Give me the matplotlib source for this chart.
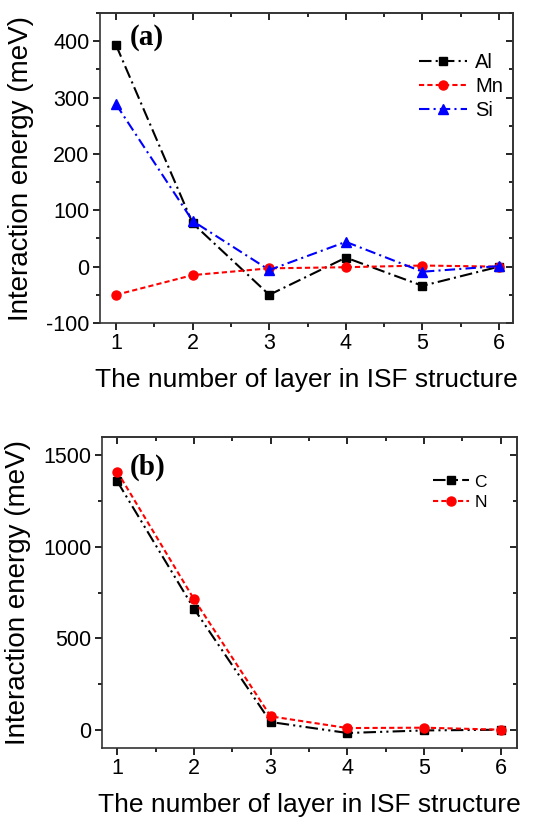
import numpy as np
import matplotlib
matplotlib.use("Agg")
import matplotlib.pyplot as plt
from matplotlib.ticker import MultipleLocator

plt.rcParams['font.family'] = ['Liberation Sans', 'DejaVu Sans']
plt.rcParams['axes.unicode_minus'] = False

layers = [1, 2, 3, 4, 5, 6]

# panel (a)
al = [393, 77, -50, 16, -34, 0]
mn = [-50, -15, -3, -1, 2, 0]
si = [288, 81, -6, 44, -9, 1]

# panel (b)
c_vals = [1358, 662, 42, -18, -4, 0]
n_vals = [1411, 714, 73, 9, 11, 0]

xlabel = "The number of layer in ISF structure"
ylabel = "Interaction energy (meV)"


def style_axes(ax, ymajor, yminor):
    ax.xaxis.set_major_locator(MultipleLocator(1))
    ax.xaxis.set_minor_locator(MultipleLocator(0.5))
    ax.yaxis.set_major_locator(MultipleLocator(ymajor))
    ax.yaxis.set_minor_locator(MultipleLocator(yminor))
    ax.tick_params(which='both', direction='out', top=False, right=False,
                   labelsize=15.5, width=1.2, pad=2.5)
    ax.tick_params(which='major', length=5)
    ax.tick_params(which='minor', length=3)
    # inward ticks on top and right
    sec_x = ax.secondary_xaxis('top')
    sec_x.xaxis.set_major_locator(MultipleLocator(1))
    sec_x.xaxis.set_minor_locator(MultipleLocator(0.5))
    sec_x.tick_params(which='both', direction='in', labeltop=False, width=1.2)
    sec_x.tick_params(which='major', length=5)
    sec_x.tick_params(which='minor', length=3)
    sec_y = ax.secondary_yaxis('right')
    sec_y.yaxis.set_major_locator(MultipleLocator(ymajor))
    sec_y.yaxis.set_minor_locator(MultipleLocator(yminor))
    sec_y.tick_params(which='both', direction='in', labelright=False, width=1.2)
    sec_y.tick_params(which='major', length=5)
    sec_y.tick_params(which='minor', length=3)
    for sp in ax.spines.values():
        sp.set_linewidth(1.2)
        sp.set_color('#333333')
    for sec in (sec_x, sec_y):
        for sp in sec.spines.values():
            sp.set_linewidth(1.2)
            sp.set_color('#333333')
    ax.set_xlabel(xlabel, fontsize=19, labelpad=10)
    ax.set_ylabel(ylabel, fontsize=20, labelpad=9)


fig = plt.figure(figsize=(5.39, 8.19), dpi=100)

ax1 = fig.add_axes([0.1855, 0.6056, 0.766, 0.3785])
ax1.plot(layers, al, color='black', linestyle=(0, (6, 2, 1, 2)), marker='s',
         markersize=6, linewidth=1.5, label='Al')
ax1.plot(layers, mn, color='red', linestyle=(0, (2.5, 1.5)), marker='o',
         markersize=6.5, linewidth=1.5, label='Mn')
ax1.plot(layers, si, color='blue', linestyle=(0, (5, 2, 1, 2)), marker='^',
         markersize=6.5, linewidth=1.5, label='Si')
ax1.set_xlim(0.79, 6.18)
ax1.set_ylim(-100, 450)
style_axes(ax1, 100, 50)
ax1.text(0.073, 0.965, "(a)", transform=ax1.transAxes, fontsize=21,
         fontweight='bold', family='Liberation Serif', va='top')
ax1.legend(loc='upper right', bbox_to_anchor=(1.02, 0.93), frameon=False,
           fontsize=14.5, handlelength=2.4, handletextpad=0.4, labelspacing=0.25)

ax2 = fig.add_axes([0.189, 0.0867, 0.770, 0.3797])
ax2.plot(layers, c_vals, color='black', linestyle=(0, (6, 2, 1, 2, 1, 2)), marker='s',
         markersize=6, linewidth=1.5, label='C')
ax2.plot(layers, n_vals, color='red', linestyle=(0, (2.5, 1.5)), marker='o',
         markersize=6.5, linewidth=1.5, label='N')
ax2.set_xlim(0.8, 6.21)
ax2.set_ylim(-100, 1600)
style_axes(ax2, 500, 250)
ax2.text(0.067, 0.945, "(b)", transform=ax2.transAxes, fontsize=21,
         fontweight='bold', family='Liberation Serif', va='top')
ax2.legend(loc='upper right', bbox_to_anchor=(0.965, 0.93), frameon=False,
           fontsize=12.5, handlelength=2.1, handletextpad=0.3, labelspacing=0.3)

fig.savefig("out.png", dpi=100)
